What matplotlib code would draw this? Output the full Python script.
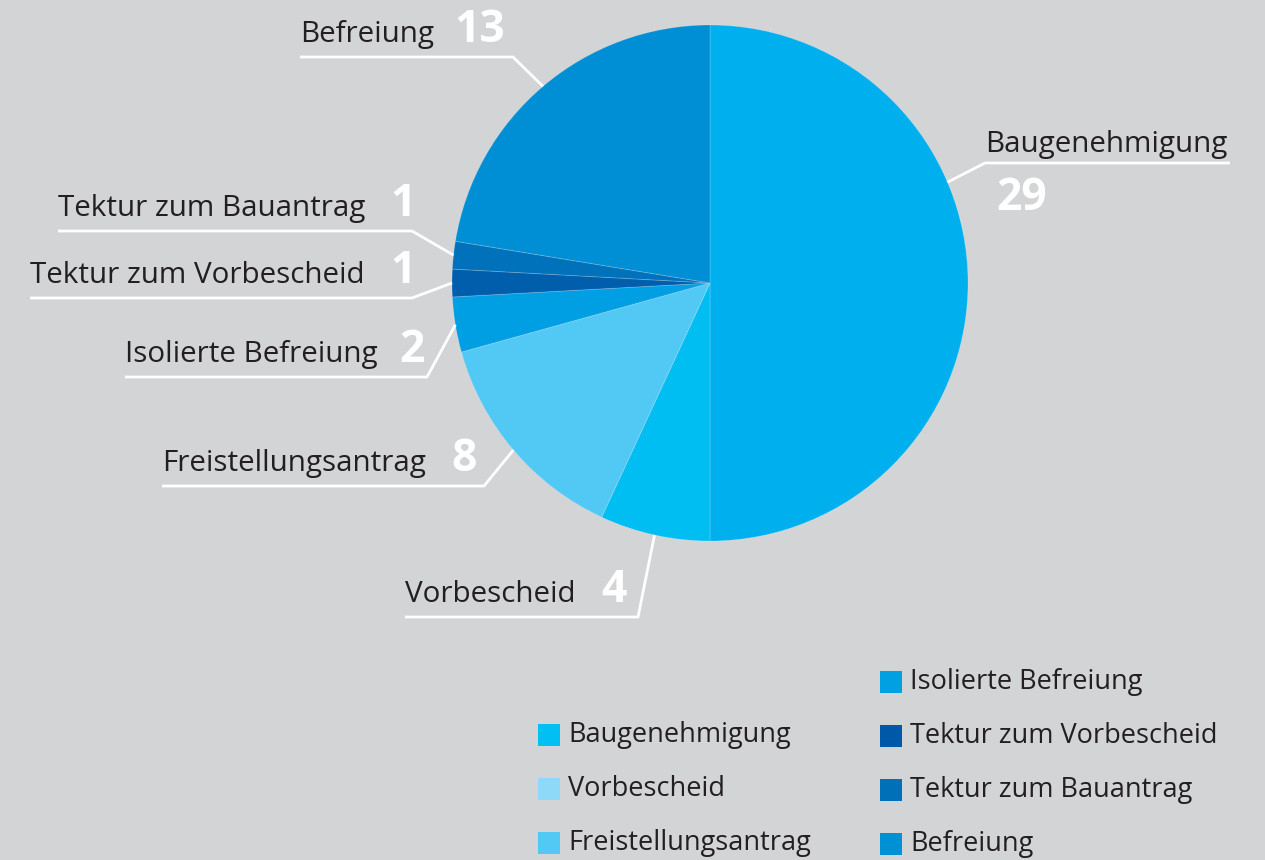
import matplotlib
matplotlib.use("Agg")
import matplotlib.pyplot as plt
from matplotlib.patches import Rectangle
import numpy as np

plt.rcParams['font.family'] = ['Open Sans', 'DejaVu Sans']

# Daten
categories = ["Baugenehmigung", "Vorbescheid", "Freistellungsantrag",
              "Isolierte Befreiung", "Tektur zum Vorbescheid",
              "Tektur zum Bauantrag", "Befreiung"]
values = [29, 4, 8, 2, 1, 1, 13]
slice_colors = ["#00b0ee", "#00bef2", "#52c9f5", "#009fe3", "#005ead", "#0072bb", "#008fd5"]
legend_colors = ["#00bff3", "#8dd9f7", "#52c9f5", "#00a0e3", "#0059a8", "#0070b9", "#0090d4"]

BG = "#d3d4d6"
TXT = "#231f20"
W, H = 1265, 860
cx, cy, R = 710, 283, 258
LABEL_FS = 21.3
NUM_FS = 32
LEG_FS = 19.5


def Y(py):
    return H - py


fig = plt.figure(figsize=(W / 100, H / 100), dpi=100, facecolor=BG)
ax = fig.add_axes([0, 0, 1, 1])
ax.axis("off")
ax.set_facecolor(BG)

wedges, _ = ax.pie(values, colors=slice_colors, startangle=90, counterclock=False,
                   center=(cx, Y(cy)), radius=R,
                   wedgeprops=dict(edgecolor=(1, 1, 1, 0.18), linewidth=0.7))
ax.set_xlim(0, W)
ax.set_ylim(0, H)

# Beschriftungen mit Führungslinien
layout = {
    "Baugenehmigung": dict(side="right", x0=985, ly=163, x1=1230, nx=996, ny=210),
    "Vorbescheid": dict(side="left", x0=405, ly=617, bend=638, nx=601),
    "Freistellungsantrag": dict(side="left", x0=162, ly=486, bend=484, nx=451),
    "Isolierte Befreiung": dict(side="left", x0=125, ly=377, bend=427, nx=399),
    "Tektur zum Vorbescheid": dict(side="left", x0=30, ly=298, bend=412, nx=390),
    "Tektur zum Bauantrag": dict(side="left", x0=58, ly=231, bend=412, nx=390),
    "Befreiung": dict(side="left", x0=300, ly=57, bend=513, nx=454),
}

for cat, val, w in zip(categories, values, wedges):
    mid = np.deg2rad((w.theta1 + w.theta2) / 2)
    L = layout[cat]
    if L["side"] == "right":
        ang = np.deg2rad(23)
        px, py = cx + R * np.cos(ang), cy - R * np.sin(ang)
        xs = [px, L["x0"], L["x1"]]
        ys = [py, L["ly"], L["ly"]]
        ax.text(L["x0"], Y(L["ly"] - 11), cat, fontsize=LABEL_FS, color=TXT,
                va="baseline", ha="left")
        ax.text(L["nx"], Y(L["ny"]), str(val), fontsize=NUM_FS, color="white",
                fontweight="bold", va="baseline", ha="left")
    else:
        px, py = cx + R * np.cos(mid), cy - R * np.sin(mid)
        xs = [L["x0"], L["bend"], px]
        ys = [L["ly"], L["ly"], py]
        ax.text(L["x0"], Y(L["ly"] - 15), cat, fontsize=LABEL_FS, color=TXT,
                va="baseline", ha="left")
        ax.text(L["nx"], Y(L["ly"] - 15), str(val), fontsize=NUM_FS, color="white",
                fontweight="bold", va="baseline", ha="left")
    ax.plot(xs, [Y(v) for v in ys], color="white", lw=2, solid_capstyle="butt")

# Legende (zwei Spalten, unten ausgerichtet)
left_col = categories[:3]
right_col = categories[3:]
for i, cat in enumerate(left_col):
    yc = 735 + 54 * i
    c = legend_colors[categories.index(cat)]
    ax.add_patch(Rectangle((538, Y(yc + 11)), 22, 22, color=c, lw=0))
    ax.text(568, Y(yc), cat, fontsize=LEG_FS, color=TXT, va="center", ha="left")
for i, cat in enumerate(right_col):
    yc = 682 + 54 * i
    c = legend_colors[categories.index(cat)]
    ax.add_patch(Rectangle((880, Y(yc + 11)), 22, 22, color=c, lw=0))
    ax.text(910, Y(yc), cat, fontsize=LEG_FS, color=TXT, va="center", ha="left")

fig.savefig("out.png", dpi=100, facecolor=BG)
